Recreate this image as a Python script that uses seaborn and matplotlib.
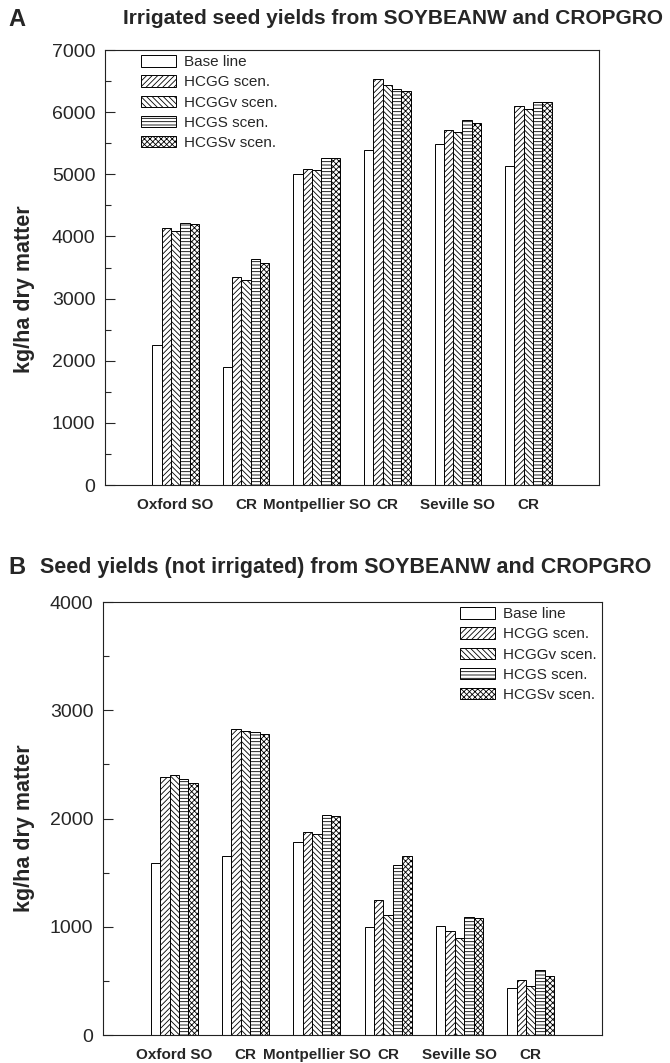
import matplotlib
matplotlib.use("Agg")
import matplotlib.pyplot as plt
from matplotlib.ticker import MultipleLocator
import numpy as np
import pandas as pd
import seaborn as sns

# Sites (two crop models per location) and their axis labels
site_keys = ["Oxford SO", "Oxford CR", "Montpellier SO", "Montpellier CR",
             "Seville SO", "Seville CR"]
site_labels = ["Oxford SO", "CR", "Montpellier SO", "CR", "Seville SO", "CR"]

scenarios = ["Base line", "HCGG scen.", "HCGGv scen.", "HCGS scen.", "HCGSv scen."]

# Irrigated seed yields (kg/ha dry matter)
irr_base = [2250, 1900, 5000, 5390, 5490, 5130]
irr_hcgg = [4130, 3340, 5080, 6530, 5710, 6100]
irr_hcggv = [4090, 3300, 5070, 6440, 5680, 6050]
irr_hcgs = [4210, 3630, 5270, 6380, 5870, 6170]
irr_hcgsv = [4200, 3570, 5265, 6345, 5820, 6165]

# Rain-fed seed yields (kg/ha dry matter)
dry_base = [1590, 1650, 1780, 1000, 1010, 435]
dry_hcgg = [2385, 2825, 1880, 1245, 960, 510]
dry_hcggv = [2400, 2805, 1860, 1110, 900, 455]
dry_hcgs = [2370, 2800, 2035, 1575, 1095, 600]
dry_hcgsv = [2330, 2785, 2020, 1655, 1085, 545]

hatches = ["", "//////", "\\\\\\\\\\\\", "-----", "xxxxxx"]

sns.set_style("ticks")
plt.rcParams["font.family"] = ["Liberation Sans", "DejaVu Sans"]
plt.rcParams["hatch.linewidth"] = 0.6


def long_table(series):
    rows = []
    for scen, vals in zip(scenarios, series):
        for key, v in zip(site_keys, vals):
            rows.append({"site": key, "scenario": scen, "yield": v})
    return pd.DataFrame(rows)


def draw_panel(ax, series, ymax, legend_anchor):
    df = long_table(series)
    sns.barplot(data=df, x="site", y="yield", hue="scenario",
                order=site_keys, hue_order=scenarios,
                palette=["white"] * len(scenarios), saturation=1,
                edgecolor="black", linewidth=0.7, width=0.66,
                errorbar=None, legend=False, ax=ax)
    for cont, h in zip(ax.containers, hatches):
        for p in cont.patches:
            p.set_hatch(h)
    ax.set_xlim(-1, 6)
    ax.set_ylim(0, ymax)
    ax.yaxis.set_major_locator(MultipleLocator(1000))
    ax.yaxis.set_minor_locator(MultipleLocator(500))
    ax.tick_params(axis="y", which="major", direction="in", length=7,
                   width=0.8, labelsize=14, pad=7, right=False)
    ax.tick_params(axis="y", which="minor", direction="in", length=4,
                   width=0.8, right=False)
    ax.set_xticks(range(len(site_keys)))
    ax.set_xticklabels(site_labels, fontsize=11, fontweight="bold")
    ax.tick_params(axis="x", length=0, pad=9)
    ax.set_xlabel("")
    ax.set_ylabel("kg/ha dry matter", fontsize=15.5, fontweight="bold")
    for s in ax.spines.values():
        s.set_visible(True)
        s.set_linewidth(0.8)
        s.set_color("#222222")
    ax.legend(handles=list(ax.containers), labels=scenarios,
              loc="upper left", bbox_to_anchor=legend_anchor,
              frameon=False, fontsize=11, handlelength=2.3,
              handleheight=0.75, labelspacing=0.4, handletextpad=0.5,
              borderpad=0, borderaxespad=0)


fig = plt.figure(figsize=(6.7, 10.63), dpi=100)
axA = fig.add_axes([0.1567, 0.5437, 0.7373, 0.4092])
axB = fig.add_axes([0.1537, 0.0263, 0.7448, 0.4073])

draw_panel(axA, [irr_base, irr_hcgg, irr_hcggv, irr_hcgs, irr_hcgsv],
           7000, (0.073, 0.988))
draw_panel(axB, [dry_base, dry_hcgg, dry_hcggv, dry_hcgs, dry_hcgsv],
           4000, (0.715, 0.988))

axA.yaxis.set_label_coords(-0.142, 0.45)
axB.yaxis.set_label_coords(-0.136, 0.478)

fig.text(0.012, 1 - 20 / 1063, "A", fontsize=17, fontweight="bold",
         va="center", ha="left")
fig.text(0.183, 1 - 18 / 1063, "Irrigated seed yields from SOYBEANW and CROPGRO",
         fontsize=15, fontweight="bold", va="center", ha="left")
fig.text(0.012, 1 - 568 / 1063, "B", fontsize=17, fontweight="bold",
         va="center", ha="left")
fig.text(0.06, 1 - 568 / 1063,
         "Seed yields (not irrigated) from SOYBEANW and CROPGRO",
         fontsize=15.5, fontweight="bold", va="center", ha="left")

fig.savefig("out.png", dpi=100)
